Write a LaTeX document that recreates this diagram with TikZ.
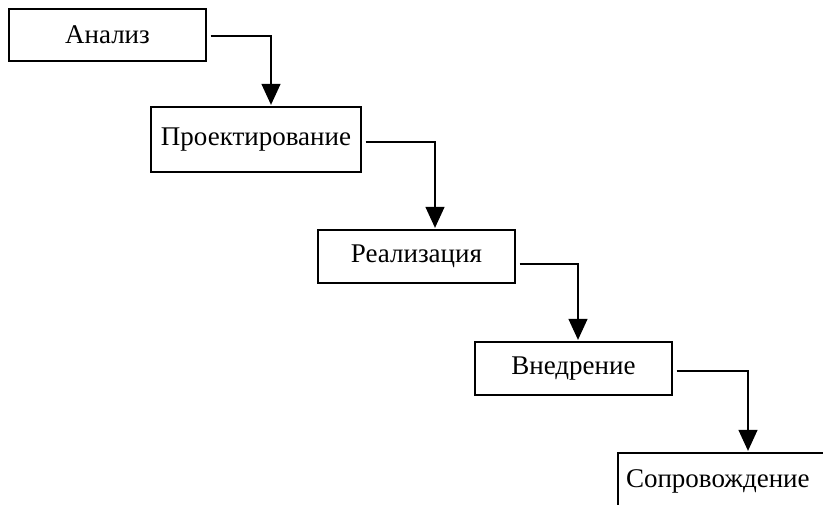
\documentclass[tikz,border=0pt]{standalone}
\usepackage{fontspec}
\setmainfont{Liberation Serif}
\usetikzlibrary{arrows.meta}
\tikzset{
  stage/.style={draw, line width=1.3pt, rectangle, inner sep=0pt, font=\fontsize{27}{31}\selectfont},
  flow/.style={line width=1.3pt, -{Triangle[width=19pt,length=21pt]}, shorten >=1.5pt}
}
\begin{document}
\begin{tikzpicture}[x=1pt,y=-1pt]
\useasboundingbox (0,0) rectangle (823,504);
\clip (0,0) rectangle (823,504);
\node[stage, minimum width=197pt, minimum height=52pt] (a) at (107.5,35) {Анализ};
\node[stage, minimum width=210pt, minimum height=65pt] (b) at (256,139.5) {Проектирование};
\node[stage, minimum width=197pt, minimum height=53pt] (c) at (416.5,256.5) {Реализация};
\node[stage, minimum width=197pt, minimum height=53pt] (d) at (573.5,368.5) {Внедрение};
\node[stage, minimum width=230pt, minimum height=56pt, text width=214pt, align=left, inner xsep=8pt] (e) at (733,481) {Сопровождение};
\draw[flow] ([xshift=4pt,yshift=-1pt]a.east) -| ([xshift=15pt]b.north);
\draw[flow] ([xshift=4pt,yshift=-2.5pt]b.east) -| ([xshift=18.5pt]c.north);
\draw[flow] ([xshift=4pt,yshift=-7.5pt]c.east) -| ([xshift=4.5pt]d.north);
\draw[flow] ([xshift=4pt,yshift=-2.5pt]d.east) -| ([xshift=15pt]e.north);
\end{tikzpicture}
\end{document}
